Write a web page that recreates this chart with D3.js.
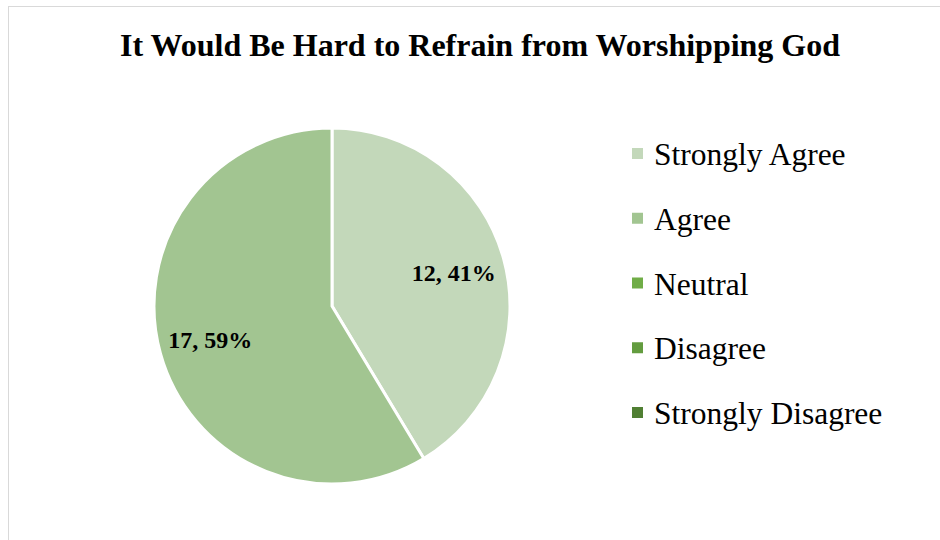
<!DOCTYPE html>
<html><head><meta charset="utf-8">
<script src="https://cdn.jsdelivr.net/npm/d3@7"></script>
<style>body{margin:0;background:#fff}svg{display:block}</style>
</head><body>
<svg id="c" width="940" height="540"></svg>
<script>
const categories = ["Strongly Agree","Agree","Neutral","Disagree","Strongly Disagree"];
const values = [12, 17, 0, 0, 0];
const colors = ["#C3D8BA","#A2C591","#70AD47","#639C3F","#507F33"];
const title = "It Would Be Hard to Refrain from Worshipping God";

const svg = d3.select("#c");
svg.append("rect").attr("x",8.5).attr("y",6.5).attr("width",940).attr("height",540)
  .attr("fill","#fff").attr("stroke","#d9d9d9").attr("stroke-width",1);

svg.append("text").attr("x",480).attr("y",56).attr("text-anchor","middle")
  .attr("font-family","Liberation Serif, Times New Roman, serif").attr("font-weight","bold")
  .attr("font-size",32).attr("fill","#000").text(title);

const cx=332, cy=306, r=178;
const color = d3.scaleOrdinal().domain(categories).range(colors);
const data = categories.map((c,i)=>({cat:c, v:values[i]}));
const pie = d3.pie().value(d=>d.v).sort(null);
const arcs = pie(data);
const arc = d3.arc().innerRadius(0).outerRadius(r);
const g = svg.append("g").attr("transform",`translate(${cx},${cy})`);
g.selectAll("path").data(arcs.filter(a=>a.data.v>0)).join("path")
  .attr("d",arc).attr("fill",d=>color(d.data.cat))
  .attr("stroke","#fff").attr("stroke-width",3).attr("stroke-linejoin","miter");

const total = d3.sum(values);
const labelArc = d3.arc().innerRadius(r*0.71).outerRadius(r*0.71);
g.selectAll("text.lbl").data(arcs.filter(a=>a.data.v>0)).join("text")
  .attr("class","lbl")
  .attr("transform",d=>`translate(${labelArc.centroid(d)})`)
  .attr("text-anchor","middle").attr("dy","0.35em")
  .attr("font-family","Liberation Serif, Times New Roman, serif").attr("font-weight","bold")
  .attr("font-size",24).attr("fill","#000")
  .text(d=>`${d.data.v}, ${Math.round(d.data.v/total*100)}%`);

const ly = d3.scalePoint().domain(categories).range([154,413]);
const leg = svg.append("g");
const items = leg.selectAll("g").data(categories).join("g")
  .attr("transform",d=>`translate(632,${ly(d)})`);
items.append("rect").attr("x",0).attr("y",-6).attr("width",11).attr("height",11)
  .attr("fill",d=>color(d));
items.append("text").attr("x",22).attr("y",0).attr("dy","0.35em")
  .attr("font-family","Liberation Serif, Times New Roman, serif")
  .attr("font-size",31.5).attr("fill","#000").text(d=>d);
</script>
</body></html>
